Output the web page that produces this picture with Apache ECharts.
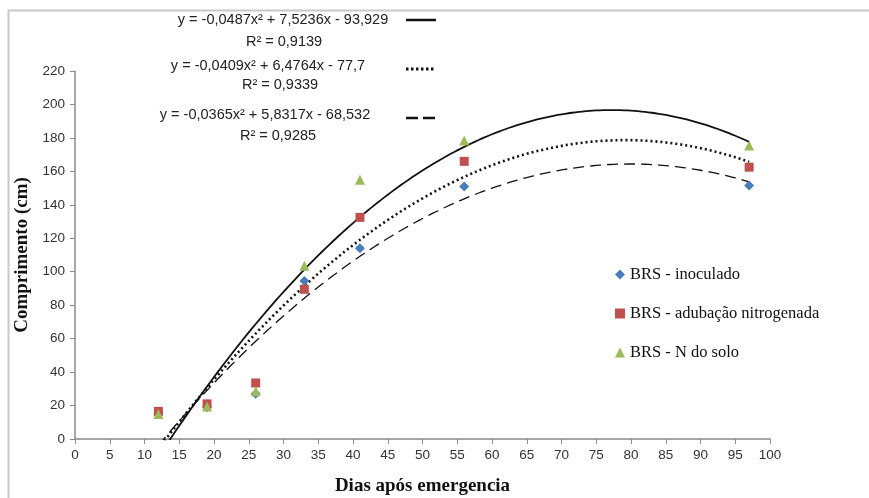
<!DOCTYPE html>
<html>
<head>
<meta charset="utf-8">
<script src="https://cdn.jsdelivr.net/npm/echarts@6/dist/echarts.min.js"></script>
<style>
  html, body { margin: 0; padding: 0; background: #fff; }
  #chart { width: 869px; height: 498px; }
</style>
</head>
<body>
<div id="chart"></div>
<script>
// dias apos emergencia
var dias = [12, 19, 26, 33, 41, 56, 97];
var inoculado = [15, 19, 27, 94.5, 114, 151, 151.5];
var adubacao = [16.5, 21, 33.5, 89.5, 132.5, 166, 162.5];
var nSolo = [15, 19.5, 28.5, 103.5, 155, 178.5, 175.5];

// trendline coefficients [a, b, c] for y = a*x^2 + b*x + c
var coefSolo = [-0.0487, 7.5236, -93.929];
var coefAdubacao = [-0.0409, 6.4764, -77.7];
var coefInoculado = [-0.0365, 5.8317, -68.532];

var eqTexts = [
    'y = -0,0487x² + 7,5236x - 93,929', 'R² = 0,9139',
    'y = -0,0409x² + 6,4764x - 77,7', 'R² = 0,9339',
    'y = -0,0365x² + 5,8317x - 68,532', 'R² = 0,9285'
];

function pairs(ys) {
    return dias.map(function (d, i) { return [d, ys[i]]; });
}
function trend(coef) {
    var pts = [];
    for (var x = dias[0]; x <= dias[dias.length - 1]; x += 0.5) {
        pts.push([x, coef[0] * x * x + coef[1] * x + coef[2]]);
    }
    return pts;
}

var chart = echarts.init(document.getElementById('chart'));
var labelFont = '"Liberation Sans", Arial, sans-serif';
var serif = '"Liberation Serif", "Times New Roman", serif';
var eqFont = '14.5px ' + labelFont;

chart.setOption({
    backgroundColor: '#fff',
    animation: false,
    grid: { left: 75, right: 99, top: 71, bottom: 59, outerBoundsMode: 'none' },
    xAxis: {
        type: 'value', min: 0, max: 100, interval: 5,
        name: 'Dias após emergencia', nameLocation: 'middle', nameGap: 38,
        nameTextStyle: { fontFamily: serif, fontWeight: 'bold', fontSize: 19, color: '#111' },
        axisLine: { lineStyle: { color: '#8a8a8a', width: 1.5 } },
        axisTick: { show: true, length: 5, lineStyle: { color: '#8a8a8a' } },
        axisLabel: { fontFamily: labelFont, fontSize: 13.5, color: '#333', margin: 9 },
        splitLine: { show: false }
    },
    yAxis: {
        type: 'value', min: 0, max: 220, interval: 20,
        name: 'Comprimento (cm)', nameLocation: 'middle', nameGap: 43, nameRotate: 90,
        nameTextStyle: { fontFamily: serif, fontWeight: 'bold', fontSize: 19, color: '#111' },
        axisLine: { show: true, lineStyle: { color: '#8a8a8a', width: 1.5 } },
        axisTick: { show: true, length: 5, lineStyle: { color: '#8a8a8a' } },
        axisLabel: { fontFamily: labelFont, fontSize: 13.5, color: '#333', margin: 10 },
        splitLine: { show: false }
    },
    legend: {
        data: ['BRS - inoculado', 'BRS - adubação nitrogenada', 'BRS - N do solo'],
        orient: 'vertical', left: 610, top: 261, itemGap: 22,
        itemWidth: 10, itemHeight: 10,
        textStyle: { fontFamily: serif, fontSize: 16.5, color: '#111' }
    },
    graphic: [
        { type: 'rect', left: 6, top: 8, shape: { width: 1000, height: 700 },
          style: { fill: 'none', stroke: '#c8c8c8', lineWidth: 2 }, silent: true },
        { type: 'text', x: 283, y: 20, style: { text: eqTexts[0], align: 'center', verticalAlign: 'middle', font: eqFont, fill: '#222' } },
        { type: 'text', x: 284, y: 42, style: { text: eqTexts[1], align: 'center', verticalAlign: 'middle', font: eqFont, fill: '#222' } },
        { type: 'text', x: 268, y: 66, style: { text: eqTexts[2], align: 'center', verticalAlign: 'middle', font: eqFont, fill: '#222' } },
        { type: 'text', x: 280, y: 85, style: { text: eqTexts[3], align: 'center', verticalAlign: 'middle', font: eqFont, fill: '#222' } },
        { type: 'text', x: 265, y: 115, style: { text: eqTexts[4], align: 'center', verticalAlign: 'middle', font: eqFont, fill: '#222' } },
        { type: 'text', x: 278, y: 136, style: { text: eqTexts[5], align: 'center', verticalAlign: 'middle', font: eqFont, fill: '#222' } },
        { type: 'line', shape: { x1: 406, y1: 20, x2: 436, y2: 20 }, style: { stroke: '#111', lineWidth: 2.5 } },
        { type: 'line', shape: { x1: 406, y1: 69, x2: 436, y2: 69 }, style: { stroke: '#111', lineWidth: 3, lineDash: [2.5, 2.5] } },
        { type: 'line', shape: { x1: 406, y1: 118, x2: 436, y2: 118 }, style: { stroke: '#111', lineWidth: 2.5, lineDash: [12, 5] } }
    ],
    series: [
        {
            name: 'trend N do solo', type: 'line', data: trend(coefSolo),
            showSymbol: false, clip: true, silent: true,
            lineStyle: { color: '#111', width: 1.8 }, z: 1
        },
        {
            name: 'trend adubacao', type: 'line', data: trend(coefAdubacao),
            showSymbol: false, clip: true, silent: true,
            lineStyle: { color: '#111', width: 2.6, type: [2, 3] }, z: 1
        },
        {
            name: 'trend inoculado', type: 'line', data: trend(coefInoculado),
            showSymbol: false, clip: true, silent: true,
            lineStyle: { color: '#111', width: 1.3, type: [11, 6] }, z: 1
        },
        {
            name: 'BRS - inoculado', type: 'scatter', data: pairs(inoculado),
            symbol: 'diamond', symbolSize: 10,
            itemStyle: { color: '#4a7ebb', opacity: 1 }, z: 3
        },
        {
            name: 'BRS - adubação nitrogenada', type: 'scatter', data: pairs(adubacao),
            symbol: 'rect', symbolSize: 9,
            itemStyle: { color: '#c0504d', opacity: 1 }, z: 4
        },
        {
            name: 'BRS - N do solo', type: 'scatter', data: pairs(nSolo),
            symbol: 'triangle', symbolSize: 10,
            itemStyle: { color: '#9bbb59', opacity: 1 }, z: 5
        }
    ]
});
</script>
</body>
</html>
